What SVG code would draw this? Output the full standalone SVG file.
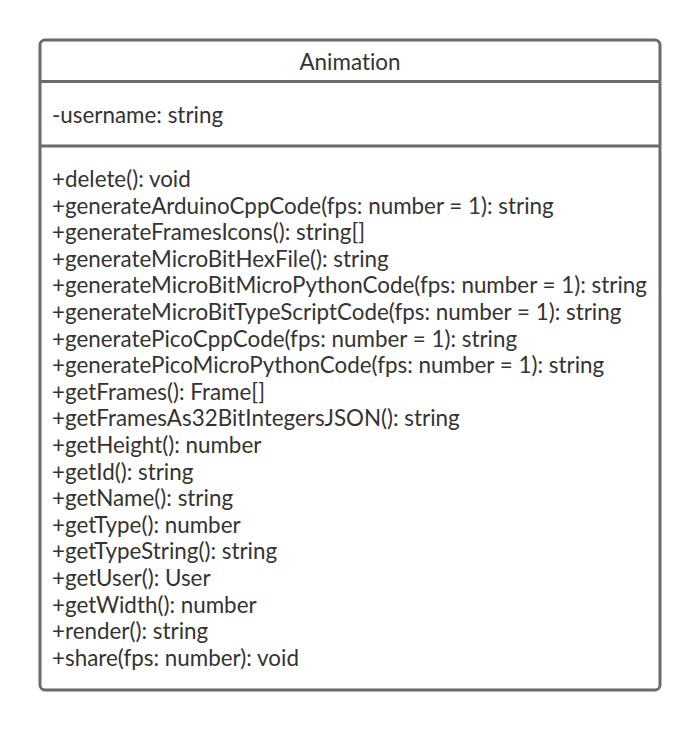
<svg xmlns="http://www.w3.org/2000/svg" width="700" height="731" viewBox="0 0 700 731">
<style>
.box{fill:#ffffff;stroke:#6b6b6b;stroke-width:3}
.sep{stroke:#6b6b6b;stroke-width:3}
text{font-family:Lato,"Liberation Sans",sans-serif;font-size:22.4px;fill:#333333;font-variant-ligatures:none;font-feature-settings:"liga" 0,"dlig" 0}
.title{text-anchor:middle}
</style>
<rect width="700" height="731" fill="#ffffff"/>
<g id="Animation">
<rect class="box" x="40" y="40" width="620" height="650" rx="5" ry="5"/>
<line class="sep" x1="40" y1="81.5" x2="660" y2="81.5"/>
<line class="sep" x1="40" y1="146" x2="660" y2="146"/>
<text class="title" x="350" y="70">Animation</text>
<text x="52" y="123">-username: string</text>
<text x="52" y="187">+delete(): void</text>
<text x="52" y="213.6">+generateArduinoCppCode(fps: number = 1): string</text>
<text x="52" y="240.2">+generateFramesIcons(): string[]</text>
<text x="52" y="266.8">+generateMicroBitHexFile(): string</text>
<text x="52" y="293.4">+generateMicroBitMicroPythonCode(fps: number = 1): string</text>
<text x="52" y="320">+generateMicroBitTypeScriptCode(fps: number = 1): string</text>
<text x="52" y="346.6">+generatePicoCppCode(fps: number = 1): string</text>
<text x="52" y="373.2">+generatePicoMicroPythonCode(fps: number = 1): string</text>
<text x="52" y="399.8">+getFrames(): Frame[]</text>
<text x="52" y="426.4">+getFramesAs32BitIntegersJSON(): string</text>
<text x="52" y="453">+getHeight(): number</text>
<text x="52" y="479.6">+getId(): string</text>
<text x="52" y="506.2">+getName(): string</text>
<text x="52" y="532.8">+getType(): number</text>
<text x="52" y="559.4">+getTypeString(): string</text>
<text x="52" y="586">+getUser(): User</text>
<text x="52" y="612.6">+getWidth(): number</text>
<text x="52" y="639.2">+render(): string</text>
<text x="52" y="665.8">+share(fps: number): void</text>
</g>
</svg>
